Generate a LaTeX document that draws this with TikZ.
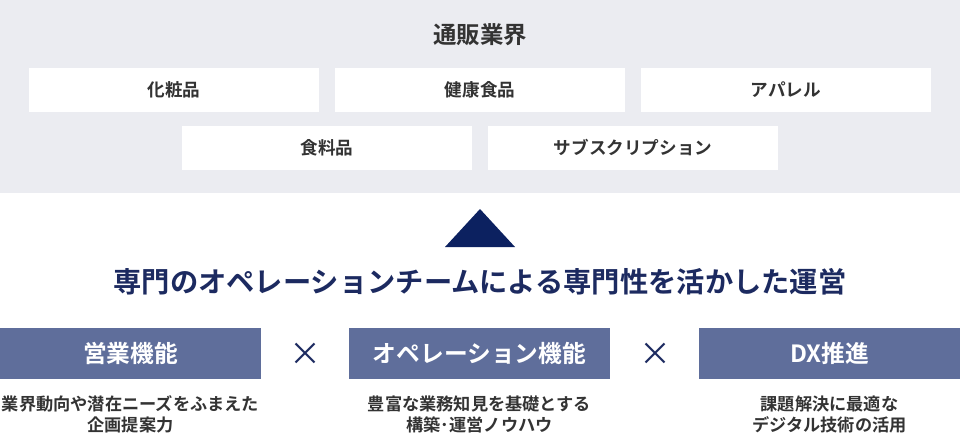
\documentclass[tikz,border=0pt]{standalone}
\usepackage{fontspec}
\setmainfont{Noto Sans CJK JP}[BoldFont={Noto Sans CJK JP Bold}]
\definecolor{bggray}{HTML}{EBECF1}
\definecolor{textgray}{HTML}{333333}
\definecolor{navy}{HTML}{1C2A60}
\definecolor{tri}{HTML}{0C2160}
\definecolor{func}{HTML}{5F6E9B}

\begin{document}
\begin{tikzpicture}[x=0.75pt,y=-0.75pt,
    cat/.style={fill=white,text=textgray,font=\bfseries\fontsize{13.2}{15}\selectfont},
    func/.style={fill=func,text=white,font=\bfseries\fontsize{17.8}{20}\selectfont},
    desc/.style={text=textgray,align=center,font=\bfseries\fontsize{12.9}{15.8}\selectfont}]
\useasboundingbox (0,0) rectangle (960,433);
\fill[bggray] (0,0) rectangle (960,193);

% categories
\node (title) [text=textgray,font=\bfseries\fontsize{17.6}{20}\selectfont] at (480,35) {通販業界};
\path[cat] (29,68) rectangle (319,112) node (cosm) [midway] {化粧品};
\path[cat] (335,68) rectangle (625,112) node (health) [midway] {健康食品};
\path[cat] (641,68) rectangle (931,112) node (app) [midway] {アパレル};
\path[cat] (182,126) rectangle (472,170) node (food) [midway] {食料品};
\path[cat] (488,126) rectangle (778,170) node (subs) [midway] {サブスクリプション};

\fill[tri] (480,209) coordinate (apex) -- (515,247) -- (445,247) -- cycle;
\node (head) [text=navy,font=\bfseries\fontsize{21.2}{24}\selectfont] at (480,282)
    {専門のオペレーションチームによる専門性を活かした運営};

% functions
\path[func] (0,328) rectangle (261,379) node (sales) [midway] {営業機能};
\path[func] (349,328) rectangle (610,379) node (ops) [midway] {オペレーション機能};
\path[func] (699,328) rectangle (960,379) node (dx) [midway] {DX推進};
\node (x1) [text=navy,font=\fontsize{24}{24}\selectfont] at (305,354) {×};
\node (x2) [text=navy,font=\fontsize{24}{24}\selectfont] at (655,354) {×};

\node (salesd) [desc] at (130.5,414.5) {業界動向や潜在ニーズをふまえた\\企画提案力};
\node (opsd) [desc] at (479.5,414.5) {豊富な業務知見を基礎とする\\構築･運営ノウハウ};
\node (dxd) [desc] at (829.5,414.5) {課題解決に最適な\\デジタル技術の活用};
\end{tikzpicture}
\end{document}
